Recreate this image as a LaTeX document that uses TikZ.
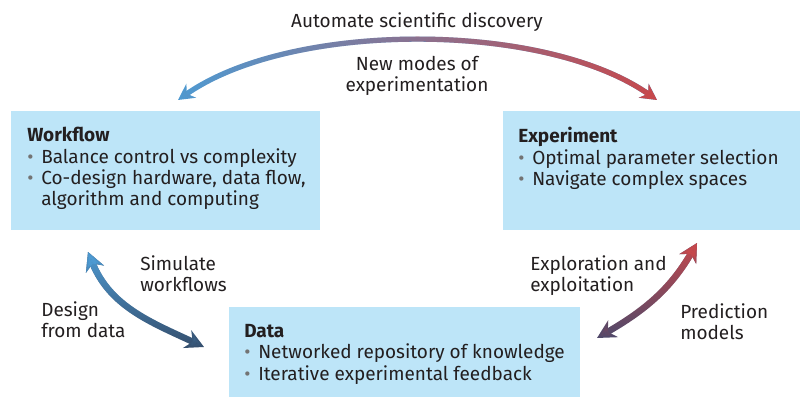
\documentclass[tikz,border=0pt]{standalone}
\usepackage{fontspec}
\setmainfont{Fira Sans}
\usepackage{xcolor}
\usepackage{tikz}
\usetikzlibrary{arrows.meta, positioning, fadings}

\definecolor{boxblue}{RGB}{189,229,248}
\definecolor{flowblue}{RGB}{78,155,211}
\definecolor{flowred}{RGB}{200,72,76}
\definecolor{flownavy}{RGB}{53,77,107}
\definecolor{flowslate}{RGB}{75,74,108}
\definecolor{inkblack}{RGB}{35,31,32}
\definecolor{bulgray}{RGB}{115,115,115}

\newcommand{\bul}{\makebox[0.35cm][l]{\textcolor{bulgray}{\textbullet}}}
\newcommand{\bulgap}{\hspace*{0.35cm}}

\begin{document}
\begin{tikzpicture}[
	panel/.style={shape=rectangle, fill=boxblue, inner sep=0pt},
	txt/.style={inner sep=0pt, align=left, text=inkblack, font=\fontsize{13.5}{15.2}\selectfont},
	flowarrow/.style={line width=0.13cm, {Stealth[length=0.4cm, width=0.42cm]}-{Stealth[length=0.4cm, width=0.42cm]}},
	sidearrow/.style={line width=0.16cm, {Stealth[length=0.46cm, width=0.48cm]}-{Stealth[length=0.46cm, width=0.48cm]}}]
	\useasboundingbox (0,0) rectangle (20.05,9.95);
	% Boxes:
	\node[panel, minimum width=7.725cm, minimum height=2.975cm](wf) at (4.14, 5.69){};
	\node[panel, minimum width=7.425cm, minimum height=2.975cm](ex) at (16.29, 5.69){};
	\node[panel, minimum width=8.775cm, minimum height=2.25cm](dt) at (10.11, 1.15){};
	\node[txt, anchor=north west](wf-txt) at (0.675, 6.775){\textbf{Workflow}\\\bul Balance control vs complexity\\\bul Co-design hardware, data flow,\\\bulgap algorithm and computing};
	\node[txt, anchor=north west](ex-txt) at (12.95, 6.775){\textbf{Experiment}\\\bul Optimal parameter selection\\\bul Navigate complex spaces};
	\node[txt, anchor=north west](dt-txt) at (6.1, 1.85){\textbf{Data}\\\bul Networked repository of knowledge\\\bul Iterative experimental feedback};
	% Arrow ends:
	\coordinate (top-l) at (4.45, 7.45);
	\coordinate (top-r) at (16.425, 7.45);
	\coordinate (wd-t) at (2.2, 3.65);
	\coordinate (wd-b) at (5.1, 1.275);
	\coordinate (ed-t) at (17.425, 3.875);
	\coordinate (ed-b) at (14.925, 1.5);
	% Shaded arrows:
	\draw[flowarrow, flowblue] (top-l) to[out=35, in=145, looseness=0.74] (top-r);
	\draw[flowarrow, flowred, path fading=west] (top-l) to[out=35, in=145, looseness=0.74] (top-r);
	\draw[sidearrow, flownavy] (wd-t) to[out=-68, in=155] (wd-b);
	\draw[sidearrow, flowblue, path fading=south] (wd-t) to[out=-68, in=155] (wd-b);
	\draw[sidearrow, flowslate] (ed-t) to[out=240, in=30] (ed-b);
	\draw[sidearrow, flowred, path fading=south] (ed-t) to[out=240, in=30] (ed-b);
	% Labels:
	\node[txt, anchor=base](auto) at (10.425, 9.25){Automate scientific discovery};
	\node[txt, anchor=north, align=center](modes) at (10.425, 8.55){New modes of\\experimentation};
	\node[txt, anchor=north west](sim) at (3.5, 3.575){Simulate\\workflows};
	\node[txt, anchor=north west](design) at (1.025, 2.425){Design\\from data};
	\node[txt, anchor=north west](explore) at (13.25, 3.575){Exploration and\\exploitation};
	\node[txt, anchor=north west](pred) at (17.0, 2.375){Prediction\\models};
\end{tikzpicture}
\end{document}
